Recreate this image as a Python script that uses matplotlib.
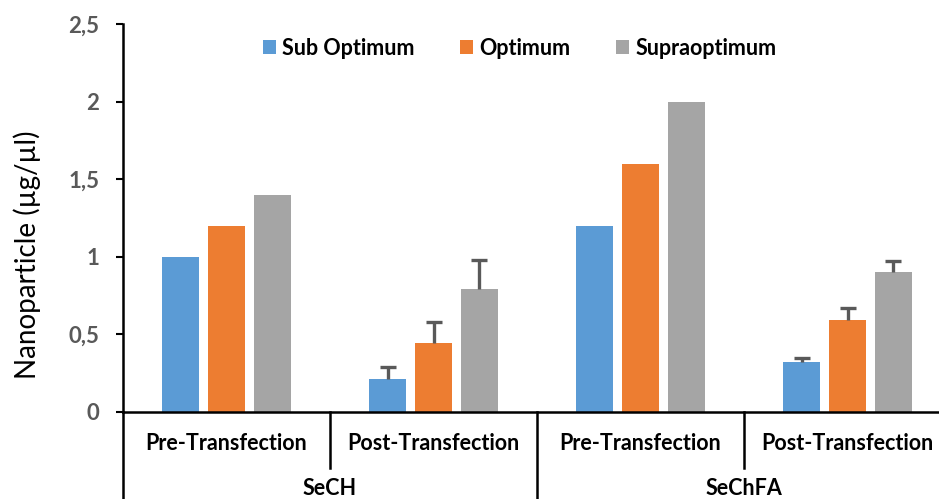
import numpy as np
import matplotlib.pyplot as plt

plt.rcParams["font.family"] = "Lato"

# data
groups = ['SeCH', 'SeChFA']
stages = ['Pre-Transfection', 'Post-Transfection', 'Pre-Transfection', 'Post-Transfection']
series = ['Sub Optimum', 'Optimum', 'Supraoptimum']
sub_opt = [1.0, 0.21, 1.2, 0.32]
opt = [1.2, 0.445, 1.6, 0.595]
supra = [1.4, 0.79, 2.0, 0.90]
sub_err = [0, 0.08, 0, 0.028]
opt_err = [0, 0.135, 0, 0.077]
supra_err = [0, 0.19, 0, 0.075]
yticks = [0, 0.5, 1, 1.5, 2, 2.5]
yticklabels = ['0', '0,5', '1', '1,5', '2', '2,5']

colors = ['#5B9BD5', '#ED7D31', '#A5A5A5']

fig = plt.figure(figsize=(9.39, 4.99), dpi=100)
W, H = 939, 499
ax = fig.add_axes([123 / W, (H - 412) / H, (951 - 123) / W, (412 - 24) / H])

x = np.arange(len(stages))
bw = 0.175
step = 0.222
vals = [sub_opt, opt, supra]
errs = [sub_err, opt_err, supra_err]
for i in range(3):
    pos = x + (i - 1) * step
    v = np.array(vals[i])
    e = np.array(errs[i])
    ax.bar(pos, v, bw, color=colors[i], label=series[i], zorder=2)
    m = e > 0
    # plus-only error bars, Excel style
    ax.vlines(pos[m], v[m], v[m] + e[m], color='#595959', lw=2.4, zorder=3)
    ax.plot(pos[m], v[m] + e[m], ls='none', marker='_', ms=12, mew=2.4,
            color='#595959', zorder=3)

ax.set_xlim(-0.5, 3.5)
ax.set_ylim(0, 2.5)
ax.set_yticks(yticks)
ax.set_yticklabels(yticklabels, color='#595959', fontsize=16, fontweight='bold')
ax.tick_params(axis='y', direction='out', length=5, width=1.5, pad=12)
ax.set_xticks([])
for s in ['top', 'right']:
    ax.spines[s].set_visible(False)
ax.spines['left'].set_linewidth(1.8)
ax.spines['bottom'].set_linewidth(1.8)

ax.set_ylabel('Nanoparticle (µg/µl)', fontsize=20)
ax.yaxis.set_label_coords(-0.099, 0.405)

# multi-level category axis
trans = ax.get_xaxis_transform()
ax.plot([-0.5, -0.5], [0, -0.3], transform=trans, color='black', lw=1.8, clip_on=False)
for xs, ylow in [(0.5, -0.144), (1.5, -0.3), (2.5, -0.144)]:
    ax.plot([xs, xs], [0, ylow], transform=trans, color='black', lw=1.8, clip_on=False)
for i, st in enumerate(stages):
    ax.text(i, -0.08, st, transform=trans, ha='center', va='center',
            fontsize=15.5, fontweight='bold')
for j, g in enumerate(groups):
    ax.text(2 * j + 0.5, -0.196, g, transform=trans, ha='center', va='center',
            fontsize=15.5, fontweight='bold')

ax.legend(loc='upper center', bbox_to_anchor=(0.479, 1.015), ncol=3, frameon=False,
          handlelength=0.6, handleheight=0.6, handletextpad=0.3, columnspacing=2.1,
          prop={'size': 15.5, 'weight': 'bold'})

fig.savefig('out.png', dpi=100)
